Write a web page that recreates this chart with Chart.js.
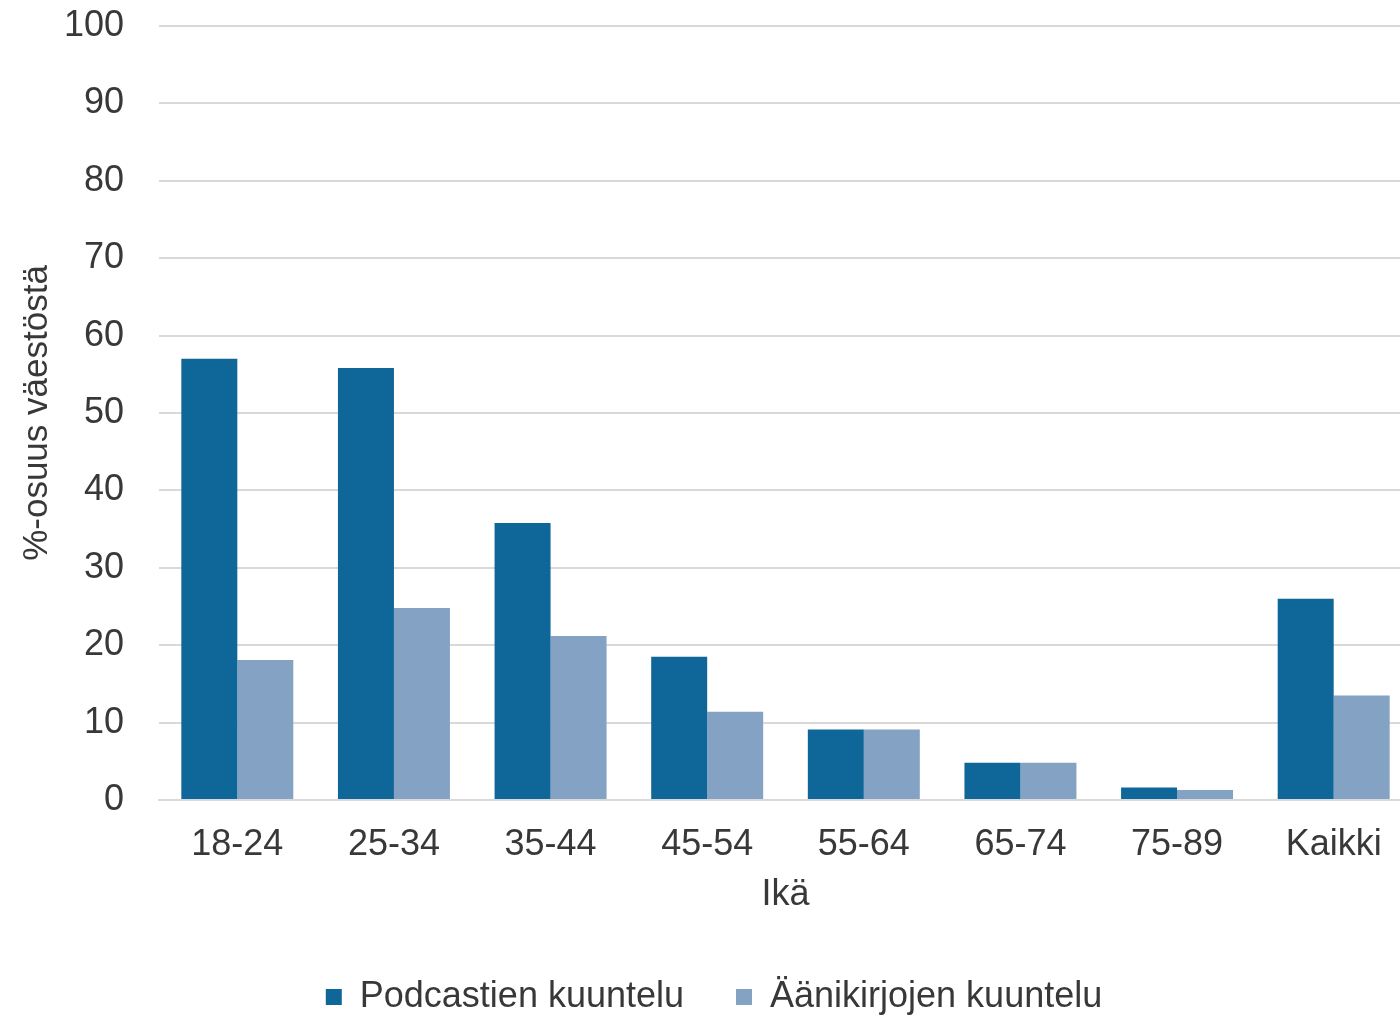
<!DOCTYPE html>
<html lang="fi">
<head>
<meta charset="utf-8">
<title>Podcastien ja äänikirjojen kuuntelu</title>
<script src="https://cdn.jsdelivr.net/npm/chart.js@4.4.1/dist/chart.umd.min.js"></script>
<style>
  html, body { margin: 0; padding: 0; overflow: hidden; background: #fff; }
  #wrap { position: relative; width: 1412px; height: 1018px; }
</style>
</head>
<body>
<div id="wrap"><canvas id="kuuntelu-chart"></canvas></div>
<script>
// Ikäryhmät ja osuudet (%) luettu kuvasta
const ikaryhmat = ["18-24", "25-34", "35-44", "45-54", "55-64", "65-74", "75-89", "Kaikki"];
const podcastit = [57.0, 55.8, 35.8, 18.5, 9.1, 4.8, 1.6, 26.0];
const aanikirjat = [18.1, 24.8, 21.2, 11.4, 9.1, 4.8, 1.3, 13.5];
const yTicks = [0, 10, 20, 30, 40, 50, 60, 70, 80, 90, 100];

const tekstiVari = "#383838";
const fontti = "'Liberation Sans', Arial, sans-serif";

document.addEventListener("DOMContentLoaded", () => {
  const ctx = document.getElementById("kuuntelu-chart").getContext("2d");

  new Chart(ctx, {
    type: "bar",
    data: {
      labels: ikaryhmat,
      datasets: [
        {
          label: "Podcastien kuuntelu",
          data: podcastit,
          backgroundColor: "#0f6699",
          borderWidth: 0,
        },
        {
          label: "Äänikirjojen kuuntelu",
          data: aanikirjat,
          backgroundColor: "#84a2c4",
          borderWidth: 0,
        },
      ],
    },
    options: {
      responsive: true,
      maintainAspectRatio: false,
      animation: false,
      layout: { padding: { top: 26, bottom: -7, left: 16, right: 0 } },
      datasets: {
        bar: { categoryPercentage: 0.715, barPercentage: 1.0 },
      },
      plugins: {
        tooltip: { enabled: false },
        legend: {
          position: "bottom",
          labels: {
            boxWidth: 16,
            boxHeight: 16,
            padding: 52,
            color: tekstiVari,
            font: { family: fontti, size: 36 },
          },
        },
      },
      scales: {
        x: {
          grid: { display: false, drawTicks: false },
          border: { display: true, color: "#d9d9d9", width: 2 },
          ticks: {
            color: tekstiVari,
            padding: 23,
            maxRotation: 0,
            font: { family: fontti, size: 36 },
          },
          title: {
            display: true,
            text: "Ikä",
            color: tekstiVari,
            padding: { top: 4, bottom: 10 },
            font: { family: fontti, size: 36 },
          },
          afterFit: (scale) => {
            scale.height = 127;
            scale.paddingLeft = 0;
            scale.paddingRight = 0;
          },
        },
        y: {
          min: 0,
          max: 100,
          afterBuildTicks: (scale) => {
            scale.ticks = yTicks.map((v) => ({ value: v }));
          },
          grid: { color: "#d9d9d9", lineWidth: 2, drawTicks: false },
          border: { display: false },
          ticks: {
            color: tekstiVari,
            padding: 35,
            font: { family: fontti, size: 36 },
          },
          title: {
            display: true,
            text: "%-osuus väestöstä",
            color: tekstiVari,
            padding: { top: 0, bottom: 0 },
            font: { family: fontti, size: 35 },
          },
          afterFit: (scale) => {
            scale.width = 143;
            scale.paddingTop = 0;
            scale.paddingBottom = 0;
          },
        },
      },
    },
  });
});
</script>
</body>
</html>
